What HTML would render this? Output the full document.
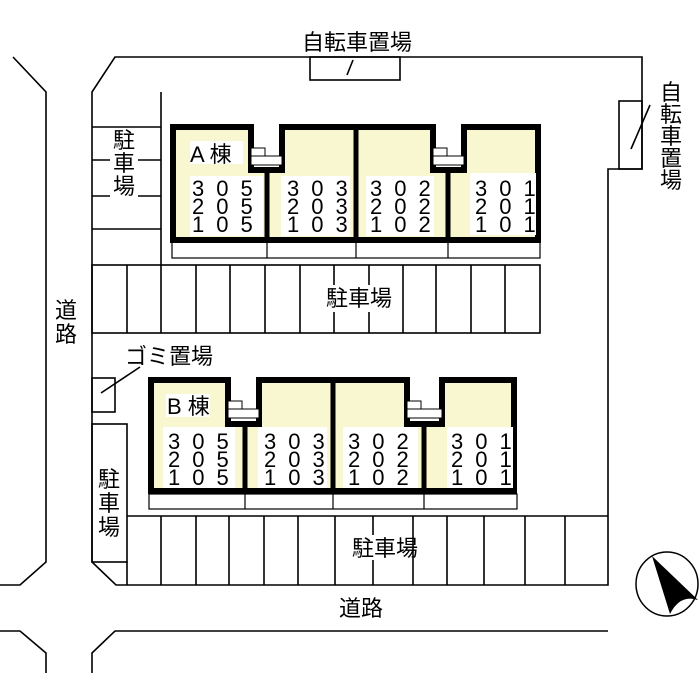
<!DOCTYPE html>
<html><head><meta charset="utf-8"><style>
html,body{margin:0;padding:0;background:#fff;}
svg{display:block;}
text{font-family:"Liberation Sans","Noto Sans CJK JP",sans-serif;fill:#000;}
.k{font-size:21px;}
.n{font-size:22px;letter-spacing:12px;}
</style></head><body>
<svg width="700" height="700" viewBox="0 0 700 700" xmlns="http://www.w3.org/2000/svg">
<g fill="none" stroke="#000" stroke-width="1.6">
<polyline points="13,57 46,92 46,562 20,585 0,585"/>
<polyline points="0,631 20,631 46,653 46,673"/>
<polyline points="92,673 92,653 115,631 608,631"/>
<polyline points="92,562 92,92 115,57 642,57 642,169 608,169 608,585 116,585 92,562"/>
<rect x="310" y="57" width="90" height="23"/>
<line x1="347" y1="75" x2="353" y2="60"/>
<rect x="619" y="101" width="23" height="68"/>
<line x1="631" y1="149" x2="650" y2="105"/>
<line x1="161" y1="92" x2="161" y2="265"/>
<line x1="92" y1="127" x2="161" y2="127"/>
<line x1="92" y1="160" x2="110" y2="160"/><line x1="138" y1="160" x2="161" y2="160"/>
<line x1="92" y1="196" x2="110" y2="196"/><line x1="138" y1="196" x2="161" y2="196"/>
<line x1="92" y1="229" x2="161" y2="229"/>
<rect x="92" y="265" width="448" height="68"/>
<line x1="127" y1="265" x2="127" y2="333"/><line x1="161" y1="265" x2="161" y2="333"/>
<line x1="196" y1="265" x2="196" y2="333"/><line x1="230" y1="265" x2="230" y2="333"/>
<line x1="265" y1="265" x2="265" y2="333"/><line x1="300" y1="265" x2="300" y2="333"/>
<line x1="334" y1="265" x2="334" y2="285"/><line x1="334" y1="312" x2="334" y2="333"/>
<line x1="369" y1="265" x2="369" y2="285"/><line x1="369" y1="312" x2="369" y2="333"/>
<line x1="403" y1="265" x2="403" y2="333"/><line x1="436" y1="265" x2="436" y2="333"/>
<line x1="471" y1="265" x2="471" y2="333"/><line x1="505" y1="265" x2="505" y2="333"/>
<rect x="92" y="378" width="23" height="34"/>
<line x1="101" y1="393" x2="140" y2="367"/>
<rect x="92" y="424" width="35" height="138"/>
<line x1="127" y1="562" x2="127" y2="585"/>
<line x1="127" y1="516" x2="608" y2="516"/>
<line x1="161" y1="516" x2="161" y2="585"/><line x1="196" y1="516" x2="196" y2="585"/>
<line x1="229" y1="516" x2="229" y2="585"/><line x1="264" y1="516" x2="264" y2="585"/>
<line x1="298" y1="516" x2="298" y2="585"/><line x1="335" y1="516" x2="335" y2="585"/>
<line x1="373" y1="516" x2="373" y2="535"/><line x1="373" y1="560" x2="373" y2="585"/>
<line x1="413" y1="516" x2="413" y2="585"/>
<line x1="447" y1="516" x2="447" y2="585"/><line x1="484" y1="516" x2="484" y2="585"/>
<line x1="525" y1="516" x2="525" y2="585"/><line x1="565" y1="516" x2="565" y2="585"/>
<rect x="172" y="242" width="368" height="16" stroke-width="1.2"/>
<line x1="267" y1="242" x2="267" y2="258" stroke-width="1.2"/><line x1="356" y1="242" x2="356" y2="258" stroke-width="1.2"/><line x1="448" y1="242" x2="448" y2="258" stroke-width="1.2"/>
<rect x="149" y="494" width="368" height="15" stroke-width="1.2"/>
<line x1="245" y1="494" x2="245" y2="509" stroke-width="1.2"/><line x1="333" y1="494" x2="333" y2="509" stroke-width="1.2"/><line x1="424" y1="494" x2="424" y2="509" stroke-width="1.2"/>
</g>
<path d="M173,127 H251 V170 H282 V127 H433 V170 H464 V127 H538 V240 H173 Z" fill="#f8f7cf" stroke="#000" stroke-width="6"/>
<g stroke="#000" stroke-width="5"><line x1="267" y1="170" x2="267" y2="240"/><line x1="356" y1="127" x2="356" y2="240"/><line x1="448" y1="170" x2="448" y2="240"/></g>
<g fill="#fff" stroke="#000" stroke-width="1"><rect x="251" y="148" width="14" height="8"/><rect x="251" y="156" width="31" height="9"/><rect x="433" y="148" width="14" height="8"/><rect x="433" y="156" width="31" height="9"/></g>
<g fill="#fff"><rect x="190" y="141" width="53" height="23"/><rect x="190" y="176" width="73" height="60"/><rect x="281" y="176" width="69" height="60"/><rect x="366" y="176" width="68" height="60"/><rect x="470" y="173" width="66" height="62"/></g>
<text x="190" y="162" font-size="22">A 棟</text>
<path d="M151,380 H228 V424 H259 V380 H407 V424 H442 V380 H514 V491 H151 Z" fill="#f8f7cf" stroke="#000" stroke-width="6"/>
<g stroke="#000" stroke-width="5"><line x1="245" y1="424" x2="245" y2="491"/><line x1="333" y1="380" x2="333" y2="491"/><line x1="424" y1="424" x2="424" y2="491"/></g>
<g fill="#fff" stroke="#000" stroke-width="1"><rect x="228" y="401" width="14" height="8"/><rect x="228" y="409" width="31" height="9"/><rect x="407" y="401" width="14" height="8"/><rect x="407" y="409" width="35" height="9"/></g>
<g fill="#fff"><rect x="166" y="394" width="44" height="23"/><rect x="163" y="427" width="72" height="61"/><rect x="258" y="427" width="69" height="61"/><rect x="343" y="427" width="75" height="61"/><rect x="447" y="427" width="66" height="61"/></g>
<text x="167" y="414" font-size="22">B 棟</text>
<g class="n">
<text x="192" y="196">305</text><text x="192" y="214">205</text><text x="192" y="232">105</text>
<text x="287" y="196">303</text><text x="287" y="214">203</text><text x="287" y="232">103</text>
<text x="370" y="196">302</text><text x="370" y="214">202</text><text x="370" y="232">102</text>
<text x="475" y="196">301</text><text x="475" y="214">201</text><text x="475" y="232">101</text>
<text x="168" y="449">305</text><text x="168" y="467">205</text><text x="168" y="485">105</text>
<text x="264" y="449">303</text><text x="264" y="467">203</text><text x="264" y="485">103</text>
<text x="348" y="449">302</text><text x="348" y="467">202</text><text x="348" y="485">102</text>
<text x="451" y="449">301</text><text x="451" y="467">201</text><text x="451" y="485">101</text>
</g>
<g class="k">
<text x="302" y="50" font-size="22">自転車置場</text>
<text x="326" y="306" font-size="22">駐車場</text>
<text x="352" y="556" font-size="22">駐車場</text>
<text x="339" y="616" font-size="22">道路</text>
<text x="125" y="364" font-size="22">ゴミ置場</text>
<text x="113" y="148" font-size="22">駐</text><text x="113" y="171" font-size="22">車</text><text x="113" y="194" font-size="22">場</text>
<text x="98" y="487" font-size="22">駐</text><text x="98" y="511" font-size="22">車</text><text x="98" y="535" font-size="22">場</text>
<text x="55" y="318" font-size="22">道</text><text x="55" y="342" font-size="22">路</text>
<text x="660" y="100" font-size="22">自</text><text x="660" y="122" font-size="22">転</text><text x="660" y="144" font-size="22">車</text><text x="660" y="166" font-size="22">置</text><text x="660" y="188" font-size="22">場</text>
</g>
<ellipse cx="667" cy="584" rx="31" ry="32" fill="none" stroke="#000" stroke-width="1.5"/>
<path d="M652,556 L698,600 Q680,594 670,614 Z" fill="#000"/>
</svg>
</body></html>
